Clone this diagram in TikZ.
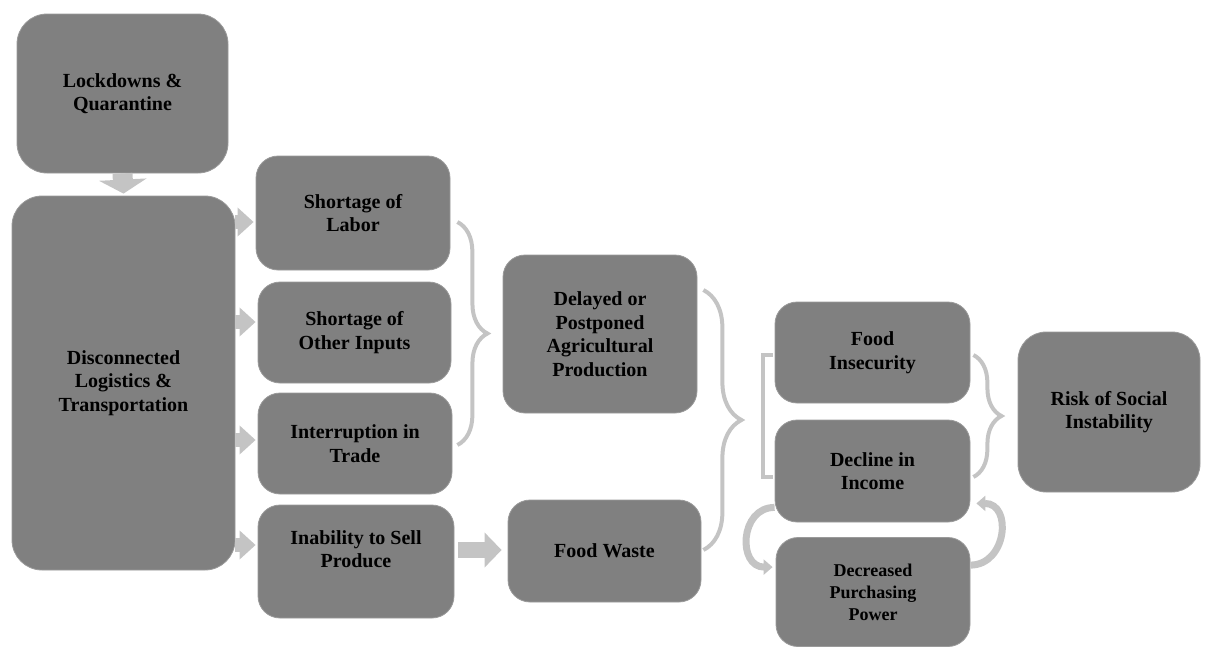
\documentclass[tikz,border=0pt]{standalone}
\usepackage{fontspec}
\setmainfont{Liberation Serif}
\usetikzlibrary{arrows.meta,decorations.pathreplacing,calc}
\definecolor{boxgray}{HTML}{808080}
\definecolor{edgegray}{HTML}{9A9A9A}
\definecolor{linkgray}{HTML}{C4C4C4}
\begin{document}
\begin{tikzpicture}[x=1pt,y=-1pt,
  box/.style={fill=boxgray, draw=edgegray, line width=0.8pt, rounded corners=22pt,
    align=center, font=\fontsize{20}{23.5}\selectfont\bfseries, text=black, inner sep=0pt},
  bigbox/.style={box, rounded corners=30pt},
  txt/.style={align=center, font=\fontsize{20}{23.5}\selectfont\bfseries, text=black, inner sep=0pt},
  blockarrow/.style={draw=linkgray, line width=14pt, -{Triangle[width=28pt,length=16pt]}},
  downarrow/.style={draw=linkgray, line width=20pt, -{Triangle[width=47pt,length=14pt]}},
  fatarrow/.style={draw=linkgray, line width=16pt, -{Triangle[width=34pt,length=17pt]}},
  bracepath/.style={draw=linkgray, line width=4pt, decorate},
  looparrow/.style={draw=linkgray, line width=7pt, -{Triangle[width=15pt,length=9pt]}}
]
\useasboundingbox (0,0) rectangle (1205,648);

% boxes
\node[bigbox, minimum width=211pt, minimum height=159pt] (lock) at (122.5,93.5) {Lockdowns \&\\Quarantine};
\node[bigbox, minimum width=223pt, minimum height=374pt] (disc) at (123.5,383) {Disconnected\\Logistics \&\\Transportation};
\node[box, minimum width=194pt, minimum height=114pt] (labor) at (353,213) {Shortage of\\Labor};
\node[box, minimum width=193pt, minimum height=101pt] (other) at (354.5,332.5) {Shortage of\\Other Inputs};
\node[box, minimum width=194pt, minimum height=101pt] (trade) at (355,443.5) {Interruption in\\Trade};
\node[box, minimum width=196pt, minimum height=113pt] (sell) at (356,561.5) {};
\node[txt] (sellt) at (356,549) {Inability to Sell\\Produce};
\node[box, minimum width=194pt, minimum height=158pt] (delay) at (600,334) {Delayed or\\Postponed\\Agricultural\\Production};
\node[box, minimum width=193pt, minimum height=102pt] (waste) at (604.5,551) {Food Waste};
\node[box, minimum width=195pt, minimum height=101pt] (fi) at (872.5,352.5) {Food\\Insecurity};
\node[box, minimum width=195pt, minimum height=102pt] (inc) at (872.5,471) {Decline in\\Income};
\node[box, minimum width=194pt, minimum height=109pt, font=\fontsize{18}{22}\selectfont\bfseries] (dpp) at (873,592) {Decreased\\Purchasing\\Power};
\node[box, minimum width=182pt, minimum height=160pt, rounded corners=28pt] (risk) at (1109,412) {Risk of Social\\Instability};

% arrows
\draw[downarrow] (lock.south) -- ([yshift=2pt]disc.north);
\coordinate (aL) at (labor.west |- 0,222);
\coordinate (aO) at (other.west |- 0,322);
\coordinate (aT) at (trade.west |- 0,440);
\coordinate (aS) at (sell.west |- 0,545);
\draw[blockarrow] (disc.east |- aL) -- ([xshift=-2pt]aL);
\draw[blockarrow] (disc.east |- aO) -- ([xshift=-2pt]aO);
\draw[blockarrow] (disc.east |- aT) -- ([xshift=-2pt]aT);
\draw[blockarrow] (disc.east |- aS) -- ([xshift=-2pt]aS);
\coordinate (aW) at (waste.west |- 0,550);
\draw[fatarrow] ([xshift=4pt]sell.east |- aW) -- ([xshift=-6pt]aW);

% braces
\draw[bracepath, decoration={brace, amplitude=30pt}] ([xshift=7pt]labor.east |- 0,222) -- ([xshift=7pt]labor.east |- 0,445);
\draw[bracepath, decoration={brace, amplitude=38pt}] ([xshift=6pt]delay.east |- 0,290) -- ([xshift=6pt]delay.east |- 0,550);
\draw[bracepath, decoration={brace, amplitude=28pt}] ([xshift=3pt]fi.east |- 0,355) -- ([xshift=3pt]fi.east |- 0,477);
% square bracket
\draw[draw=linkgray, line width=4pt] ([xshift=-2pt]fi.west |- 0,355) -- ([xshift=-12pt]fi.west |- 0,355) -- ([xshift=-12pt]fi.west |- 0,477) -- ([xshift=-2pt]fi.west |- 0,477);

% loop arrows
\draw[looparrow] ([yshift=15pt]inc.south west) to[out=180,in=180,looseness=1.5] ([xshift=-3pt,yshift=-30pt]dpp.north west);
\draw[looparrow] ([yshift=-28pt]dpp.north east) to[out=0,in=0,looseness=1.5] ([xshift=6pt,yshift=19pt]inc.south east);
\end{tikzpicture}
\end{document}
